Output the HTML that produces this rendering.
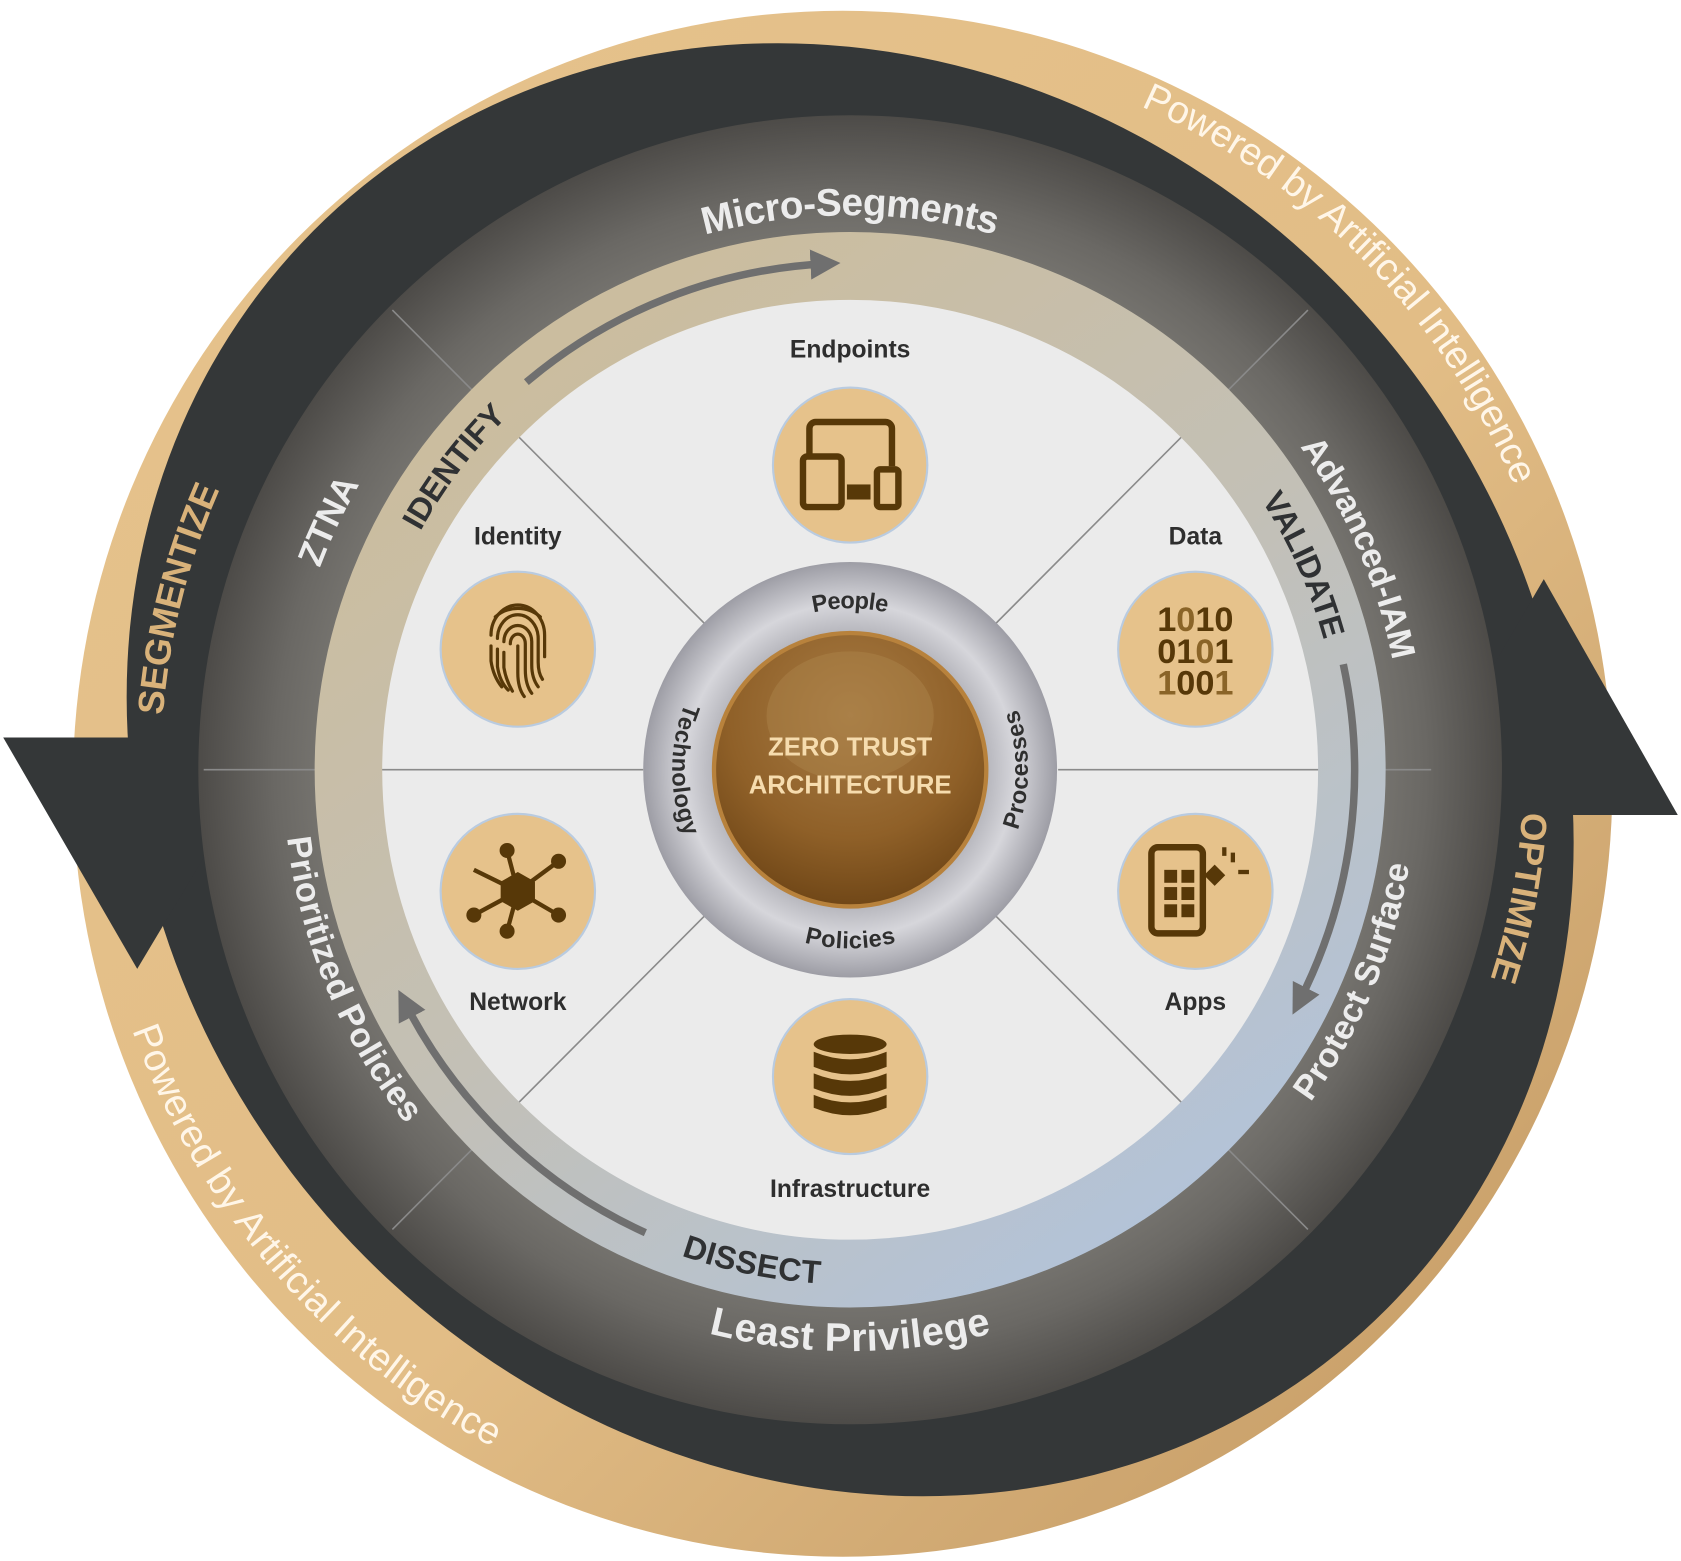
<!DOCTYPE html>
<html><head><meta charset="utf-8"><style>
html,body{margin:0;padding:0;background:#fff;width:1681px;height:1561px;overflow:hidden;}
svg{display:block;}
text{font-family:"Liberation Sans",Arial,sans-serif;}
</style></head><body>
<svg width="1681" height="1561" viewBox="0 0 1568 1450" preserveAspectRatio="none" xmlns="http://www.w3.org/2000/svg">
<defs>
<linearGradient id="tanG" x1="0" y1="0" x2="1" y2="1">
<stop offset="0" stop-color="#e6c38d"/><stop offset="0.55" stop-color="#e2bd86"/><stop offset="1" stop-color="#c09660"/>
</linearGradient>
<radialGradient id="grayG" cx="793" cy="715" r="610" gradientUnits="userSpaceOnUse">
<stop offset="0.78" stop-color="#7a7873"/><stop offset="0.88" stop-color="#6a6864"/><stop offset="1" stop-color="#4c4a47"/>
</radialGradient>
<linearGradient id="ringG" x1="0.2" y1="0.1" x2="0.8" y2="0.95">
<stop offset="0" stop-color="#cbbd9f"/><stop offset="0.5" stop-color="#c3c0b6"/><stop offset="1" stop-color="#b3c3d8"/>
</linearGradient>
<radialGradient id="silverG" cx="793" cy="715" r="193" gradientUnits="userSpaceOnUse">
<stop offset="0.6" stop-color="#a9a9b0"/><stop offset="0.8" stop-color="#d6d6db"/><stop offset="1" stop-color="#9d9da5"/>
</radialGradient>
<radialGradient id="sphereG" cx="0.5" cy="0.3" r="0.75">
<stop offset="0" stop-color="#a87c45"/><stop offset="0.6" stop-color="#8f6028"/><stop offset="1" stop-color="#6a4214"/>
</radialGradient>
<marker id="ah" viewBox="0 0 10 10" refX="5" refY="5" markerWidth="4" markerHeight="4" orient="auto">
<path d="M0,0 L10,5 L0,10 Z" fill="#6f6f6f"/>
</marker>
<path id="cw527" d="M266,715 A527,527 0 1 1 1320,715 A527,527 0 1 1 266,715 A527,527 0 1 1 1320,715 A527,527 0 1 1 266,715"/>
<path id="cw540" d="M253,715 A540,540 0 1 1 1333,715 A540,540 0 1 1 253,715 A540,540 0 1 1 1333,715 A540,540 0 1 1 253,715"/>
<path id="cw468" d="M325,715 A468,468 0 1 1 1261,715 A468,468 0 1 1 325,715 A468,468 0 1 1 1261,715 A468,468 0 1 1 325,715"/>
<path id="cw655" d="M138,715 A655,655 0 1 1 1448,715 A655,655 0 1 1 138,715 A655,655 0 1 1 1448,715 A655,655 0 1 1 138,715"/>
<path id="cw640" d="M153,715 A640,640 0 1 1 1433,715 A640,640 0 1 1 153,715 A640,640 0 1 1 1433,715 A640,640 0 1 1 153,715"/>
<path id="cw685" d="M108,715 A685,685 0 1 1 1478,715 A685,685 0 1 1 108,715 A685,685 0 1 1 1478,715 A685,685 0 1 1 108,715"/>
<path id="cw158" d="M635,715 A158,158 0 1 1 951,715 A158,158 0 1 1 635,715 A158,158 0 1 1 951,715 A158,158 0 1 1 635,715"/>
<path id="ccw528" d="M265,715 A528,528 0 1 0 1321,715 A528,528 0 1 0 265,715 A528,528 0 1 0 1321,715 A528,528 0 1 0 265,715"/>
<path id="ccw518" d="M275,715 A518,518 0 1 0 1311,715 A518,518 0 1 0 275,715 A518,518 0 1 0 1311,715 A518,518 0 1 0 275,715"/>
<path id="ccw468" d="M325,715 A468,468 0 1 0 1261,715 A468,468 0 1 0 325,715 A468,468 0 1 0 1261,715 A468,468 0 1 0 325,715"/>
<path id="ccw700" d="M93,715 A700,700 0 1 0 1493,715 A700,700 0 1 0 93,715 A700,700 0 1 0 1493,715 A700,700 0 1 0 93,715"/>
<path id="ccw158" d="M635,715 A158,158 0 1 0 951,715 A158,158 0 1 0 635,715 A158,158 0 1 0 951,715 A158,158 0 1 0 635,715"/>
</defs>

<circle cx="786" cy="728" r="718" fill="url(#tanG)"/>
<ellipse cx="793" cy="715" rx="708" ry="640" transform="rotate(45 793 715)" fill="#343738"/>
<polygon points="3,685 257,685 128,900" fill="#343738"/>
<polygon points="1312,757 1565,757 1440,538" fill="#343738"/>
<circle cx="793" cy="715" r="608" fill="url(#grayG)"/>
<circle cx="793" cy="715" r="437" fill="#ebebeb"/>
<g stroke="#8a8a8a" stroke-width="1.5">
<line x1="190" y1="715" x2="600" y2="715"/>
<line x1="987" y1="715" x2="1335" y2="715"/>
<line x1="366" y1="288" x2="710" y2="632"/>
<line x1="1220" y1="288" x2="876" y2="632"/>
<line x1="366" y1="1142" x2="710" y2="798"/>
<line x1="1220" y1="1142" x2="876" y2="798"/>
</g>
<circle cx="793" cy="715" r="468" fill="none" stroke="url(#ringG)" stroke-width="63"/>

<g fill="none" stroke="#6f6f6f" stroke-width="7" marker-end="url(#ah)">
<path d="M491,355 A470,470 0 0 1 770,245"/>
<path d="M1253,617 A470,470 0 0 1 1212,930"/>
<path d="M602,1145 A470,470 0 0 1 378,932"/>
</g>

<circle cx="793" cy="715" r="193" fill="url(#silverG)"/>
<circle cx="793" cy="715" r="127" fill="url(#sphereG)" stroke="#b8823c" stroke-width="4"/>
<ellipse cx="793" cy="665" rx="78" ry="60" fill="#ad844c" opacity="0.45"/>
<text x="793" y="702" text-anchor="middle" font-size="24" font-weight="bold" fill="#f6dcae">ZERO TRUST</text>
<text x="793" y="737" text-anchor="middle" font-size="24" font-weight="bold" fill="#f6dcae">ARCHITECTURE</text>

<g font-size="22" font-weight="bold" fill="#2f2f2f">
<text dy="8"><textPath href="#cw158" startOffset="62.5%" text-anchor="middle">People</textPath></text>
<text dy="8"><textPath href="#ccw158" startOffset="62.5%" text-anchor="middle">Policies</textPath></text>
<text dy="8"><textPath href="#ccw158" startOffset="50%" text-anchor="middle">Technology</textPath></text>
<text dy="8"><textPath href="#ccw158" startOffset="75%" text-anchor="middle">Processes</textPath></text>
</g>

<g font-weight="bold" fill="#ececec">
<text font-size="36" dy="12"><textPath href="#cw527" startOffset="62.5%" text-anchor="middle">Micro-Segments</textPath></text>
<text font-size="37" dy="12"><textPath href="#ccw528" startOffset="62.5%" text-anchor="middle">Least Privilege</textPath></text>
<text font-size="33" dy="11"><textPath href="#cw540" startOffset="53.53%" text-anchor="middle">ZTNA</textPath></text>
<text font-size="32" dy="11"><textPath href="#ccw518" startOffset="53.15%" text-anchor="middle">Prioritized Policies</textPath></text>
<text font-size="32" dy="11"><textPath href="#cw527" startOffset="71.74%" text-anchor="middle">Advanced-IAM</textPath></text>
<text font-size="32" dy="11"><textPath href="#ccw518" startOffset="71.85%" text-anchor="middle">Protect Surface</textPath></text>
</g>
<g font-weight="bold" fill="#2f3133" font-size="30">
<text dy="10"><textPath href="#cw468" startOffset="55.18%" text-anchor="middle">IDENTIFY</textPath></text>
<text dy="10"><textPath href="#cw468" startOffset="71.64%" text-anchor="middle">VALIDATE</textPath></text>
<text dy="10"><textPath href="#ccw468" startOffset="60.93%" text-anchor="middle">DISSECT</textPath></text>
</g>
<g font-weight="bold" fill="#d9b27a" font-size="34">
<text dy="12"><textPath href="#cw655" startOffset="51.97%" text-anchor="middle">SEGMENTIZE</textPath></text>
<text dy="12"><textPath href="#cw640" startOffset="76.5%" text-anchor="middle">OPTIMIZE</textPath></text>
</g>
<g fill="#fff6e8" font-size="36">
<text dy="12"><textPath href="#cw685" startOffset="68.8%" text-anchor="middle">Powered by Artificial Intelligence</textPath></text>
<text dy="12"><textPath href="#ccw700" startOffset="55.69%" text-anchor="middle">Powered by Artificial Intelligence</textPath></text>
</g>

<g fill="#e6c28b" stroke="#b9cbe0" stroke-width="2">
<circle cx="793" cy="432" r="72"/>
<circle cx="483" cy="603" r="72"/>
<circle cx="1115" cy="603" r="72"/>
<circle cx="483" cy="828" r="72"/>
<circle cx="1115" cy="828" r="72"/>
<circle cx="793" cy="1000" r="72"/>
</g>
<g font-size="23" font-weight="bold" fill="#2e2e2e" text-anchor="middle">
<text x="793" y="332">Endpoints</text>
<text x="483" y="506">Identity</text>
<text x="1115" y="506">Data</text>
<text x="483" y="938">Network</text>
<text x="1115" y="938">Apps</text>
<text x="793" y="1112">Infrastructure</text>
</g>

<g fill="none" stroke="#573808" stroke-width="6">
<path d="M755,424 V398 a6,6 0 0 1 6,-6 H826 a6,6 0 0 1 6,6 V433"/>
<rect x="749" y="424" width="36" height="47" rx="4"/>
<rect x="818" y="436" width="20" height="35" rx="3"/>
</g>
<rect x="790" y="450" width="22" height="14" fill="#573808"/>
<g fill="none" stroke="#573808" stroke-width="3" stroke-linecap="round">
<path d="M458,590 a25,28 0 0 1 50,0 v20"/>
<path d="M464,593 a19,22 0 0 1 38,0 v22 q0,10 4,16"/>
<path d="M470,596 a13,15 0 0 1 26,0 v22 q0,12 6,20"/>
<path d="M476,598 a7,9 0 0 1 14,0 v24 q0,14 6,22"/>
<path d="M483,600 v25 q0,14 6,22"/>
<path d="M458,600 v14 q2,14 10,24"/>
<path d="M464,603 v16 q2,14 10,22"/>
<path d="M470,606 v14 q2,12 8,22"/>
<path d="M462,573 a32,32 0 0 1 42,0"/>
</g>
<g font-family="Liberation Mono, monospace" font-size="32" font-weight="bold" text-anchor="middle">
<text x="1115" y="586" fill="#573808">1<tspan fill="#8a6428">0</tspan>10</text>
<text x="1115" y="616" fill="#573808">01<tspan fill="#8a6428">0</tspan>1</text>
<text x="1115" y="645" fill="#8a6428">1<tspan fill="#573808">00</tspan>1</text>
</g>
<g stroke="#573808" stroke-width="4" fill="#573808">
<line x1="483" y1="828" x2="473" y2="790"/>
<line x1="483" y1="828" x2="521" y2="800"/>
<line x1="483" y1="828" x2="521" y2="850"/>
<line x1="483" y1="828" x2="473" y2="865"/>
<line x1="483" y1="828" x2="442" y2="850"/>
<line x1="483" y1="828" x2="442" y2="808"/>
<polygon points="483,810 499,819 499,837 483,846 467,837 467,819" stroke="none"/>
<circle cx="473" cy="790" r="7" stroke="none"/>
<circle cx="521" cy="800" r="7" stroke="none"/>
<circle cx="521" cy="850" r="7" stroke="none"/>
<circle cx="473" cy="865" r="7" stroke="none"/>
<circle cx="442" cy="850" r="7" stroke="none"/>
</g>
<g fill="#573808">
<rect x="1074" y="787" width="48" height="80" rx="6" fill="none" stroke="#573808" stroke-width="6"/>
<rect x="1086" y="808" width="12" height="12"/>
<rect x="1102" y="808" width="12" height="12"/>
<rect x="1086" y="824" width="12" height="12"/>
<rect x="1102" y="824" width="12" height="12"/>
<rect x="1086" y="840" width="12" height="12"/>
<rect x="1102" y="840" width="12" height="12"/>
<rect x="1126" y="806" width="14" height="14" transform="rotate(45 1133 813)"/>
<rect x="1148" y="792" width="4" height="9"/>
<rect x="1155" y="808" width="10" height="4"/>
<rect x="1140" y="787" width="4" height="8"/>
</g>
<g fill="#573808">
<ellipse cx="793" cy="970" rx="34" ry="9"/>
<path d="M759,977 q34,14 68,0 v14 q-34,14 -68,0 Z"/>
<path d="M759,997 q34,14 68,0 v14 q-34,14 -68,0 Z"/>
<path d="M759,1017 q34,14 68,0 v12 q-34,14 -68,0 Z"/>
</g>
</svg>
</body></html>
